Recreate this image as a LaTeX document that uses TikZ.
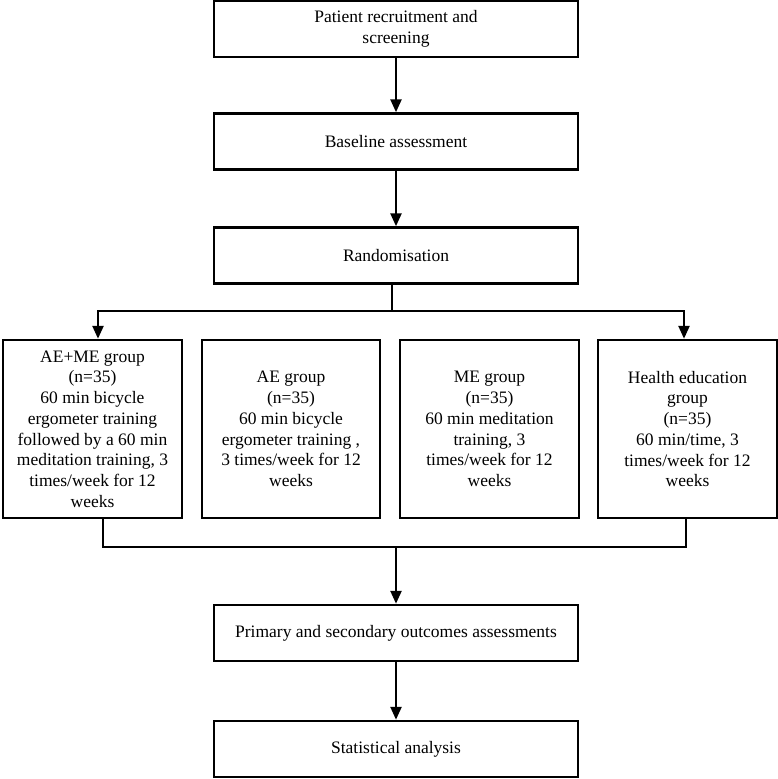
\documentclass[tikz,border=0pt]{standalone}
\usepackage{fontspec}
\setmainfont{Liberation Serif}
\usetikzlibrary{arrows.meta}
\begin{document}
\begin{tikzpicture}[x=1pt,y=-1pt,
  box/.style={draw, line width=2.5pt, align=center, inner sep=0pt,
    font=\fontsize{17.5}{20.7}\selectfont},
  wide/.style={box, minimum width=364pt, minimum height=56pt},
  grp/.style={box, minimum width=179pt, minimum height=178pt},
  conn/.style={line width=2.5pt},
  arr/.style={conn, -{Triangle[length=13pt,width=11pt]}}]
\useasboundingbox (0,0) rectangle (778,779);
\node[wide] (A) at (396,29) {Patient recruitment and\\screening};
\node[wide] (B) at (396,141.5) {Baseline assessment};
\node[wide] (C) at (396,255.5) {Randomisation};
\node[grp] (G1) at (92.5,429) {AE+ME group\\(n=35)\\60 min bicycle\\ergometer training\\followed by a 60 min\\meditation training, 3\\times/week for 12\\weeks};
\node[grp, minimum width=178pt] (G2) at (291,429) {AE group\\(n=35)\\60 min bicycle\\ergometer training ,\\3 times/week for 12\\weeks};
\node[grp] (G3) at (489.5,429) {ME group\\(n=35)\\60 min meditation\\training, 3\\times/week for 12\\weeks};
\node[grp] (G4) at (687.5,429) {Health education\\group\\(n=35)\\60 min/time, 3\\times/week for 12\\weeks};
\node[wide] (D) at (396,633) {Primary and secondary outcomes assessments};
\node[wide] (E) at (396,749) {Statistical analysis};
\draw[arr] (A) -- (B);
\draw[arr] (B) -- (C);
\coordinate (split) at (392,311);
\draw[conn] (C.south -| split) -- (split);
\draw[arr] (split) -| ([xshift=5.5pt]G1.north);
\draw[arr] (split) -| ([xshift=-3.5pt]G4.north);
\coordinate (merge) at (396,547);
\draw[conn] ([xshift=10.5pt]G1.south) |- (merge);
\draw[conn] ([xshift=-1.5pt]G4.south) |- (merge);
\draw[arr] (merge) -- (D);
\draw[arr] (D) -- (E);
\end{tikzpicture}
\end{document}
